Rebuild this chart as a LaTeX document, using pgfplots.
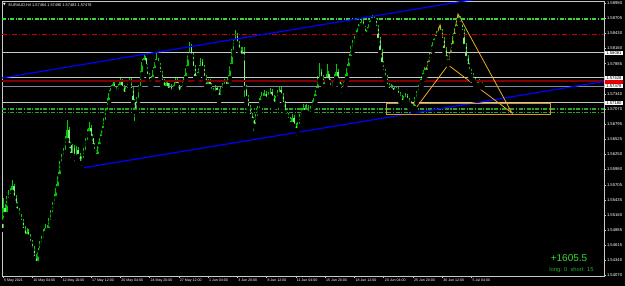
\documentclass[border=0pt]{standalone}
\usepackage{fontspec}
\setmainfont{Liberation Sans}
\newfontfamily\dejavu{DejaVu Sans}
\usepackage{pgfplots}
\usepackage{pgfplotstable}
\pgfplotsset{compat=1.18}
\definecolor{wickc}{RGB}{0,205,0}
\definecolor{bullc}{RGB}{0,200,0}
\definecolor{bearc}{RGB}{120,245,120}
\definecolor{axgray}{RGB}{200,200,200}
\definecolor{lvlgreen}{RGB}{60,215,60}
\definecolor{lvlgreen2}{RGB}{40,165,40}
\definecolor{lvlred}{RGB}{205,0,0}
\definecolor{maroon}{RGB}{128,0,0}
\definecolor{bidgray}{RGB}{130,140,155}
\definecolor{pattern}{RGB}{240,170,40}
\definecolor{boxorange}{RGB}{215,150,20}
\pgfplotstableread{
i O H L C
0 1.55034 1.55466 1.54890 1.55286
1 1.55286 1.55358 1.55070 1.55178
2 1.55178 1.55502 1.55106 1.55430
3 1.55430 1.55610 1.55358 1.55502
4 1.55502 1.55646 1.55430 1.55574
5 1.55574 1.55790 1.55502 1.55682
6 1.55682 1.55718 1.55394 1.55466
7 1.55466 1.55520 1.55250 1.55340
8 1.55340 1.55394 1.55160 1.55214
9 1.55214 1.55286 1.55034 1.55106
10 1.55106 1.55178 1.54962 1.55034
11 1.55034 1.55088 1.54818 1.54890
12 1.54890 1.54962 1.54710 1.54782
13 1.54782 1.54926 1.54710 1.54854
14 1.54854 1.54908 1.54674 1.54746
15 1.54746 1.54818 1.54584 1.54656
16 1.54656 1.54710 1.54458 1.54530
17 1.54530 1.54602 1.54314 1.54386
18 1.54386 1.54458 1.54188 1.54296
19 1.54296 1.54566 1.54242 1.54494
20 1.54494 1.54692 1.54440 1.54620
21 1.54620 1.54782 1.54548 1.54710
22 1.54710 1.54908 1.54656 1.54836
23 1.54836 1.54998 1.54782 1.54926
24 1.54926 1.54980 1.54782 1.54890
25 1.54890 1.55106 1.54836 1.55034
26 1.55034 1.55250 1.54980 1.55178
27 1.55178 1.55394 1.55106 1.55322
28 1.55322 1.55538 1.55268 1.55466
29 1.55466 1.55718 1.55394 1.55646
30 1.55646 1.55934 1.55592 1.55862
31 1.55862 1.56132 1.55790 1.56060
32 1.56060 1.56258 1.55988 1.56186
33 1.56186 1.56366 1.56114 1.56294
34 1.56294 1.56582 1.56240 1.56510
35 1.56510 1.56870 1.56438 1.56690
36 1.56690 1.56744 1.56330 1.56420
37 1.56420 1.56474 1.56150 1.56240
38 1.56240 1.56438 1.56186 1.56366
39 1.56366 1.56420 1.56078 1.56186
40 1.56186 1.56402 1.56114 1.56330
41 1.56330 1.56384 1.56150 1.56222
42 1.56222 1.56276 1.56024 1.56096
43 1.56096 1.56222 1.56006 1.56150
44 1.56150 1.56366 1.56078 1.56294
45 1.56294 1.56546 1.56240 1.56474
46 1.56474 1.56708 1.56420 1.56636
47 1.56636 1.56834 1.56582 1.56726
48 1.56726 1.56780 1.56474 1.56546
49 1.56546 1.56618 1.56330 1.56402
50 1.56402 1.56456 1.56222 1.56294
51 1.56294 1.56330 1.56150 1.56222
52 1.56222 1.56474 1.56168 1.56402
53 1.56402 1.56618 1.56330 1.56546
54 1.56546 1.56762 1.56492 1.56690
55 1.56690 1.56906 1.56618 1.56834
56 1.56834 1.57086 1.56780 1.57014
57 1.57014 1.57266 1.56942 1.57194
58 1.57194 1.57410 1.57122 1.57356
59 1.57356 1.57500 1.57302 1.57446
60 1.57446 1.57572 1.57392 1.57518
61 1.57518 1.57554 1.57338 1.57410
62 1.57410 1.57464 1.57284 1.57356
63 1.57356 1.57518 1.57302 1.57464
64 1.57464 1.57626 1.57410 1.57554
65 1.57554 1.57608 1.57374 1.57446
66 1.57446 1.57500 1.57266 1.57338
67 1.57338 1.57464 1.57284 1.57410
68 1.57410 1.57590 1.57356 1.57536
69 1.57536 1.57644 1.57482 1.57590
70 1.57590 1.57626 1.57338 1.57410
71 1.57410 1.57464 1.57122 1.57194
72 1.57194 1.57248 1.56816 1.57014
73 1.57014 1.57284 1.56942 1.57230
74 1.57230 1.57500 1.57158 1.57446
75 1.57446 1.57752 1.57392 1.57698
76 1.57698 1.57968 1.57644 1.57914
77 1.57914 1.58040 1.57878 1.57986
78 1.57986 1.58022 1.57770 1.57842
79 1.57842 1.57878 1.57590 1.57662
80 1.57662 1.57716 1.57446 1.57518
81 1.57518 1.57662 1.57464 1.57608
82 1.57608 1.57824 1.57554 1.57770
83 1.57770 1.57968 1.57716 1.57914
84 1.57914 1.58076 1.57878 1.57950
85 1.57950 1.57986 1.57770 1.57842
86 1.57842 1.57896 1.57626 1.57698
87 1.57698 1.57752 1.57482 1.57554
88 1.57554 1.57608 1.57356 1.57446
89 1.57446 1.57590 1.57392 1.57536
90 1.57536 1.57572 1.57338 1.57410
91 1.57410 1.57536 1.57356 1.57482
92 1.57482 1.57518 1.57284 1.57356
93 1.57356 1.57500 1.57302 1.57446
94 1.57446 1.57644 1.57392 1.57590
95 1.57590 1.57626 1.57428 1.57500
96 1.57500 1.57554 1.57302 1.57374
97 1.57374 1.57464 1.57320 1.57410
98 1.57410 1.57572 1.57356 1.57518
99 1.57518 1.57680 1.57464 1.57626
100 1.57626 1.57860 1.57572 1.57806
101 1.57806 1.58094 1.57752 1.58040
102 1.58040 1.58274 1.57986 1.58202
103 1.58202 1.58238 1.57950 1.58022
104 1.58022 1.58076 1.57734 1.57806
105 1.57806 1.57860 1.57536 1.57626
106 1.57626 1.57734 1.57572 1.57680
107 1.57680 1.57860 1.57626 1.57806
108 1.57806 1.57986 1.57752 1.57914
109 1.57914 1.57968 1.57734 1.57806
110 1.57806 1.57860 1.57554 1.57626
111 1.57626 1.57680 1.57410 1.57482
112 1.57482 1.57608 1.57428 1.57554
113 1.57554 1.57608 1.57410 1.57482
114 1.57482 1.57536 1.57302 1.57392
115 1.57392 1.57446 1.57230 1.57338
116 1.57338 1.57500 1.57284 1.57446
117 1.57446 1.57482 1.57302 1.57374
118 1.57374 1.57428 1.57194 1.57284
119 1.57284 1.57464 1.57230 1.57410
120 1.57410 1.57536 1.57356 1.57482
121 1.57482 1.57608 1.57428 1.57554
122 1.57554 1.57590 1.57410 1.57482
123 1.57482 1.57680 1.57428 1.57626
124 1.57626 1.57896 1.57572 1.57842
125 1.57842 1.58148 1.57788 1.58094
126 1.58094 1.58328 1.58040 1.58274
127 1.58274 1.58490 1.58220 1.58382
128 1.58382 1.58436 1.58166 1.58238
129 1.58238 1.58292 1.58058 1.58130
130 1.58130 1.58184 1.57950 1.58022
131 1.58022 1.58184 1.57968 1.58094
132 1.58094 1.58184 1.57230 1.57446
133 1.57446 1.57500 1.57194 1.57266
134 1.57266 1.57320 1.57014 1.57086
135 1.57086 1.57140 1.56870 1.56942
136 1.56942 1.56996 1.56798 1.56870
137 1.56870 1.56924 1.56636 1.56762
138 1.56762 1.56978 1.56708 1.56906
139 1.56906 1.57122 1.56852 1.57050
140 1.57050 1.57266 1.56996 1.57194
141 1.57194 1.57374 1.57140 1.57302
142 1.57302 1.57356 1.57194 1.57266
143 1.57266 1.57410 1.57212 1.57338
144 1.57338 1.57392 1.57158 1.57230
145 1.57230 1.57374 1.57176 1.57302
146 1.57302 1.57446 1.57248 1.57374
147 1.57374 1.57428 1.57194 1.57266
148 1.57266 1.57320 1.57086 1.57158
149 1.57158 1.57302 1.57104 1.57248
150 1.57248 1.57410 1.57194 1.57338
151 1.57338 1.57482 1.57284 1.57410
152 1.57410 1.57464 1.57230 1.57302
153 1.57302 1.57356 1.57086 1.57158
154 1.57158 1.57212 1.56942 1.57014
155 1.57014 1.57068 1.56870 1.56942
156 1.56942 1.56996 1.56798 1.56870
157 1.56870 1.56924 1.56726 1.56798
158 1.56798 1.56978 1.56744 1.56906
159 1.56906 1.56960 1.56690 1.56762
160 1.56762 1.56816 1.56564 1.56690
161 1.56690 1.56834 1.56636 1.56762
162 1.56762 1.56978 1.56708 1.56906
163 1.56906 1.57086 1.56852 1.57014
164 1.57014 1.57158 1.56960 1.57086
165 1.57086 1.57140 1.56942 1.57014
166 1.57014 1.57158 1.56960 1.57086
167 1.57086 1.57140 1.56906 1.56978
168 1.56978 1.57122 1.56924 1.57050
169 1.57050 1.57230 1.56996 1.57158
170 1.57158 1.57338 1.57104 1.57266
171 1.57266 1.57482 1.57212 1.57410
172 1.57410 1.57662 1.57356 1.57590
173 1.57590 1.57896 1.57536 1.57734
174 1.57734 1.57788 1.57554 1.57626
175 1.57626 1.57680 1.57410 1.57482
176 1.57482 1.57644 1.57428 1.57590
177 1.57590 1.57878 1.57536 1.57698
178 1.57698 1.57752 1.57482 1.57554
179 1.57554 1.57608 1.57374 1.57446
180 1.57446 1.57590 1.57392 1.57518
181 1.57518 1.57698 1.57464 1.57626
182 1.57626 1.57878 1.57572 1.57734
183 1.57734 1.57788 1.57518 1.57590
184 1.57590 1.57644 1.57410 1.57482
185 1.57482 1.57536 1.57302 1.57410
186 1.57410 1.57590 1.57356 1.57518
187 1.57518 1.57698 1.57464 1.57626
188 1.57626 1.57878 1.57572 1.57806
189 1.57806 1.58058 1.57752 1.57986
190 1.57986 1.58202 1.57932 1.58130
191 1.58130 1.58310 1.58076 1.58238
192 1.58238 1.58382 1.58184 1.58310
193 1.58310 1.58490 1.58256 1.58418
194 1.58418 1.58598 1.58364 1.58526
195 1.58526 1.58634 1.58472 1.58580
196 1.58580 1.58688 1.58544 1.58634
197 1.58634 1.58670 1.58454 1.58526
198 1.58526 1.58562 1.58346 1.58418
199 1.58418 1.58544 1.58364 1.58490
200 1.58490 1.58652 1.58436 1.58598
201 1.58598 1.58724 1.58544 1.58670
202 1.58670 1.58760 1.58616 1.58706
203 1.58706 1.58742 1.58598 1.58670
204 1.58670 1.58706 1.58454 1.58526
205 1.58526 1.58580 1.58238 1.58310
206 1.58310 1.58364 1.58022 1.58094
207 1.58094 1.58148 1.57806 1.57878
208 1.57878 1.57932 1.57662 1.57734
209 1.57734 1.57788 1.57554 1.57626
210 1.57626 1.57680 1.57410 1.57482
211 1.57482 1.57536 1.57338 1.57410
212 1.57410 1.57518 1.57356 1.57446
213 1.57446 1.57500 1.57302 1.57374
214 1.57374 1.57482 1.57320 1.57428
215 1.57428 1.57464 1.57338 1.57410
216 1.57410 1.57464 1.57248 1.57320
217 1.57320 1.57374 1.57194 1.57266
218 1.57266 1.57320 1.57122 1.57194
219 1.57194 1.57302 1.57140 1.57248
220 1.57248 1.57356 1.57194 1.57302
221 1.57302 1.57338 1.57140 1.57212
222 1.57212 1.57266 1.57086 1.57158
223 1.57158 1.57212 1.57050 1.57122
224 1.57122 1.57176 1.57014 1.57086
225 1.57086 1.57284 1.57032 1.57230
226 1.57230 1.57392 1.57176 1.57338
227 1.57338 1.57500 1.57284 1.57446
228 1.57446 1.57608 1.57392 1.57554
229 1.57554 1.57716 1.57500 1.57662
230 1.57662 1.57824 1.57608 1.57770
231 1.57770 1.57806 1.57662 1.57734
232 1.57734 1.57932 1.57680 1.57878
233 1.57878 1.58076 1.57824 1.58022
234 1.58022 1.58220 1.57968 1.58166
235 1.58166 1.58328 1.58112 1.58274
236 1.58274 1.58400 1.58220 1.58346
237 1.58346 1.58472 1.58292 1.58418
238 1.58418 1.58544 1.58364 1.58490
239 1.58490 1.58580 1.58382 1.58454
240 1.58454 1.58508 1.58238 1.58310
241 1.58310 1.58364 1.58058 1.58130
242 1.58130 1.58184 1.57914 1.57986
243 1.57986 1.58040 1.57860 1.57914
244 1.57914 1.58094 1.57878 1.58040
245 1.58040 1.58256 1.57986 1.58202
246 1.58202 1.58436 1.58148 1.58382
247 1.58382 1.58580 1.58328 1.58526
248 1.58526 1.58724 1.58472 1.58670
249 1.58670 1.58778 1.58616 1.58706
250 1.58706 1.58742 1.58526 1.58598
251 1.58598 1.58652 1.58382 1.58454
252 1.58454 1.58508 1.58130 1.58202
253 1.58202 1.58256 1.57914 1.57986
254 1.57986 1.58040 1.57770 1.57842
255 1.57842 1.57896 1.57662 1.57734
256 1.57734 1.57788 1.57590 1.57662
257 1.57662 1.57716 1.57518 1.57590
258 1.57590 1.57644 1.57464 1.57536
259 1.57536 1.57590 1.57428 1.57500
260 1.57500 1.57608 1.57446 1.57554
261 1.57554 1.57590 1.57464 1.57518
262 1.57518 1.57554 1.57446 1.57482
}\candles
\begin{document}
\begin{tikzpicture}
\fill[black] (0,0) rectangle (625bp,286bp);
\useasboundingbox (0,0) rectangle (625bp,286bp);
\begin{axis}[
  at={(2bp,10bp)}, anchor=south west,
  width=602bp, height=275bp, scale only axis,
  xmin=-0.6, xmax=328.4, ymin=1.54062, ymax=1.59012,
  axis background/.style={fill=black},
  axis line style={draw=axgray, line width=0.5bp},
  xtick={0,16,32,48,64,80,96,112,128,144,160,176,192,208,224,240,256},
  xticklabels={5 May 2021,10 May 04:00,12 May 20:00,17 May 12:00,20 May 04:00,24 May 20:00,27 May 12:00,1 Jun 04:00,3 Jun 20:00,8 Jun 12:00,11 Jun 04:00,15 Jun 20:00,18 Jun 12:00,23 Jun 04:00,25 Jun 20:00,30 Jun 12:00,5 Jul 04:00},
  ytick={1.58980,1.58705,1.58430,1.58160,1.57885,1.57615,1.57340,1.57070,1.56795,1.56525,1.56250,1.55980,1.55705,1.55435,1.55160,1.54885,1.54615,1.54340,1.54070},
  yticklabels={1.58980,1.58705,1.58430,1.58160,1.57885,1.57615,1.57340,1.57070,1.56795,1.56525,1.56250,1.55980,1.55705,1.55435,1.55160,1.54885,1.54615,1.54340,1.54070},
  scaled y ticks=false, scaled x ticks=false,
  xtick pos=bottom, ytick pos=right,
  xticklabel pos=bottom, yticklabel pos=right,
  tick align=outside, major tick length=2bp,
  tick style={draw=axgray, line width=0.4bp},
  yticklabel style={font=\fontsize{4.2}{5}\selectfont, text=white, inner sep=0.8bp, anchor=west},
  xticklabel style={font=\fontsize{3.6}{4.5}\selectfont, text=white, inner sep=0.6bp, anchor=north west, xshift=0.3bp},
  clip=true,
]
% wicks
\addplot[only marks, mark=none, forget plot,
  error bars/.cd, y dir=plus, y explicit, error mark=none,
  error bar style={draw=wickc, line width=0.7bp}]
  table[x=i, y=L, y error plus expr={\thisrow{H}-\thisrow{L}}] {\candles};
% bull bodies
\addplot[only marks, mark=none, forget plot,
  restrict expr to domain={\thisrow{C}-\thisrow{O}}{0:1},
  error bars/.cd, y dir=plus, y explicit, error mark=none,
  error bar style={draw=bullc, line width=1.5bp}]
  table[x=i, y=O, y error plus expr={\thisrow{C}-\thisrow{O}}] {\candles};
% bear bodies
\addplot[only marks, mark=none, forget plot,
  restrict expr to domain={\thisrow{O}-\thisrow{C}}{0:1},
  error bars/.cd, y dir=plus, y explicit, error mark=none,
  error bar style={draw=bearc, line width=1.5bp}]
  table[x=i, y=C, y error plus expr={\thisrow{O}-\thisrow{C}}] {\candles};
% horizontal levels
\addplot[forget plot, no marks, draw=lvlgreen, line width=1.8bp, dash pattern=on 4bp off 1.5bp on 1.2bp off 1.5bp] coordinates {(-0.6,1.58688) (328.4,1.58688)};
\addplot[forget plot, no marks, draw=lvlred, line width=0.8bp, dash pattern=on 5bp off 2bp on 1bp off 2bp] coordinates {(-0.6,1.58418) (328.4,1.58418)};
\addplot[forget plot, no marks, draw=axgray, line width=0.8bp] coordinates {(-0.6,1.58081) (328.4,1.58081)};
\addplot[forget plot, no marks, draw=axgray, line width=0.8bp] coordinates {(-0.6,1.57628) (328.4,1.57628)};
\addplot[forget plot, no marks, draw=maroon, line width=2.2bp] coordinates {(-0.6,1.57578) (328.4,1.57578)};
\addplot[forget plot, no marks, draw=bidgray, line width=0.7bp] coordinates {(-0.6,1.57478) (328.4,1.57478)};
\addplot[forget plot, no marks, draw=axgray, line width=0.8bp] coordinates {(-0.6,1.57180) (328.4,1.57180)};
\addplot[forget plot, no marks, draw=lvlgreen2, line width=1.6bp, dash pattern=on 4bp off 1.5bp on 1.2bp off 1.5bp] coordinates {(-0.6,1.57068) (328.4,1.57068)};
\addplot[forget plot, no marks, draw=lvlgreen2, line width=1.6bp, dash pattern=on 4bp off 1.5bp on 1.2bp off 1.5bp] coordinates {(-0.6,1.57005) (328.4,1.57005)};
% channel
\addplot[forget plot, no marks, draw=blue, line width=1.2bp] coordinates {(-0.55,1.57626) (328.4,1.59431)};
\addplot[forget plot, no marks, draw=blue, line width=1.2bp] coordinates {(43.2,1.56006) (328.4,1.57563)};
% zone rectangle
\addplot[forget plot, no marks, draw=boxorange, line width=0.9bp] coordinates {(209.3,1.57176) (298.9,1.57176) (298.9,1.56978) (209.3,1.56978) (209.3,1.57176)};
% harmonic pattern
\addplot[forget plot, no marks, draw=pattern, line width=0.8bp] coordinates {(224.0,1.57014) (238.8,1.58580) (243.2,1.57860) (224.0,1.57014)};
\addplot[forget plot, no marks, draw=pattern, line width=0.8bp] coordinates {(243.2,1.57860) (248.6,1.58778) (278.1,1.56996) (243.2,1.57860)};
\coordinate (q1) at (axis cs:328.4,1.58081);
\coordinate (q2) at (axis cs:328.4,1.57628);
\coordinate (q3) at (axis cs:328.4,1.57578);
\coordinate (q4) at (axis cs:328.4,1.57478);
\coordinate (q5) at (axis cs:328.4,1.57180);
\end{axis}
\tikzset{pricebox/.style={anchor=west, fill=white, text=black, font=\fontsize{4.2}{5}\selectfont, inner xsep=1.2bp, inner ysep=0.4bp}}
\node[anchor=west, fill={rgb,255:red,230;green,0;blue,0}, inner sep=0pt, minimum width=18bp, minimum height=4.6bp] at ([xshift=1bp,yshift=-0.6bp]q3) {};
\node[pricebox] at ([xshift=1bp]q1) {1.58081};
\node[pricebox] at ([xshift=1bp]q2) {1.57628};
\node[pricebox] at ([xshift=1bp]q4) {1.57478};
\node[pricebox] at ([xshift=1bp]q5) {1.57180};
\node[anchor=west, text=white, inner sep=0pt, font=\dejavu\fontsize{3.4}{4}\selectfont] at (3bp,281bp) {▼};
\node[anchor=west, text=white, inner sep=0pt, font=\fontsize{3.9}{4.5}\selectfont] at (8.5bp,281bp) {EURAUD,H4 1.57484 1.57490 1.57483 1.57478};
\node[text={rgb,255:red,50;green,220;blue,50}, inner sep=0pt, font=\fontsize{10}{11}\selectfont] at (569bp,27.5bp) {+1605.5};
\node[text={rgb,255:red,40;green,170;blue,40}, inner sep=0pt, font=\fontsize{5.8}{6.5}\selectfont] at (571.5bp,15.5bp) {long: 0~~short: 15};
\end{tikzpicture}
\end{document}
